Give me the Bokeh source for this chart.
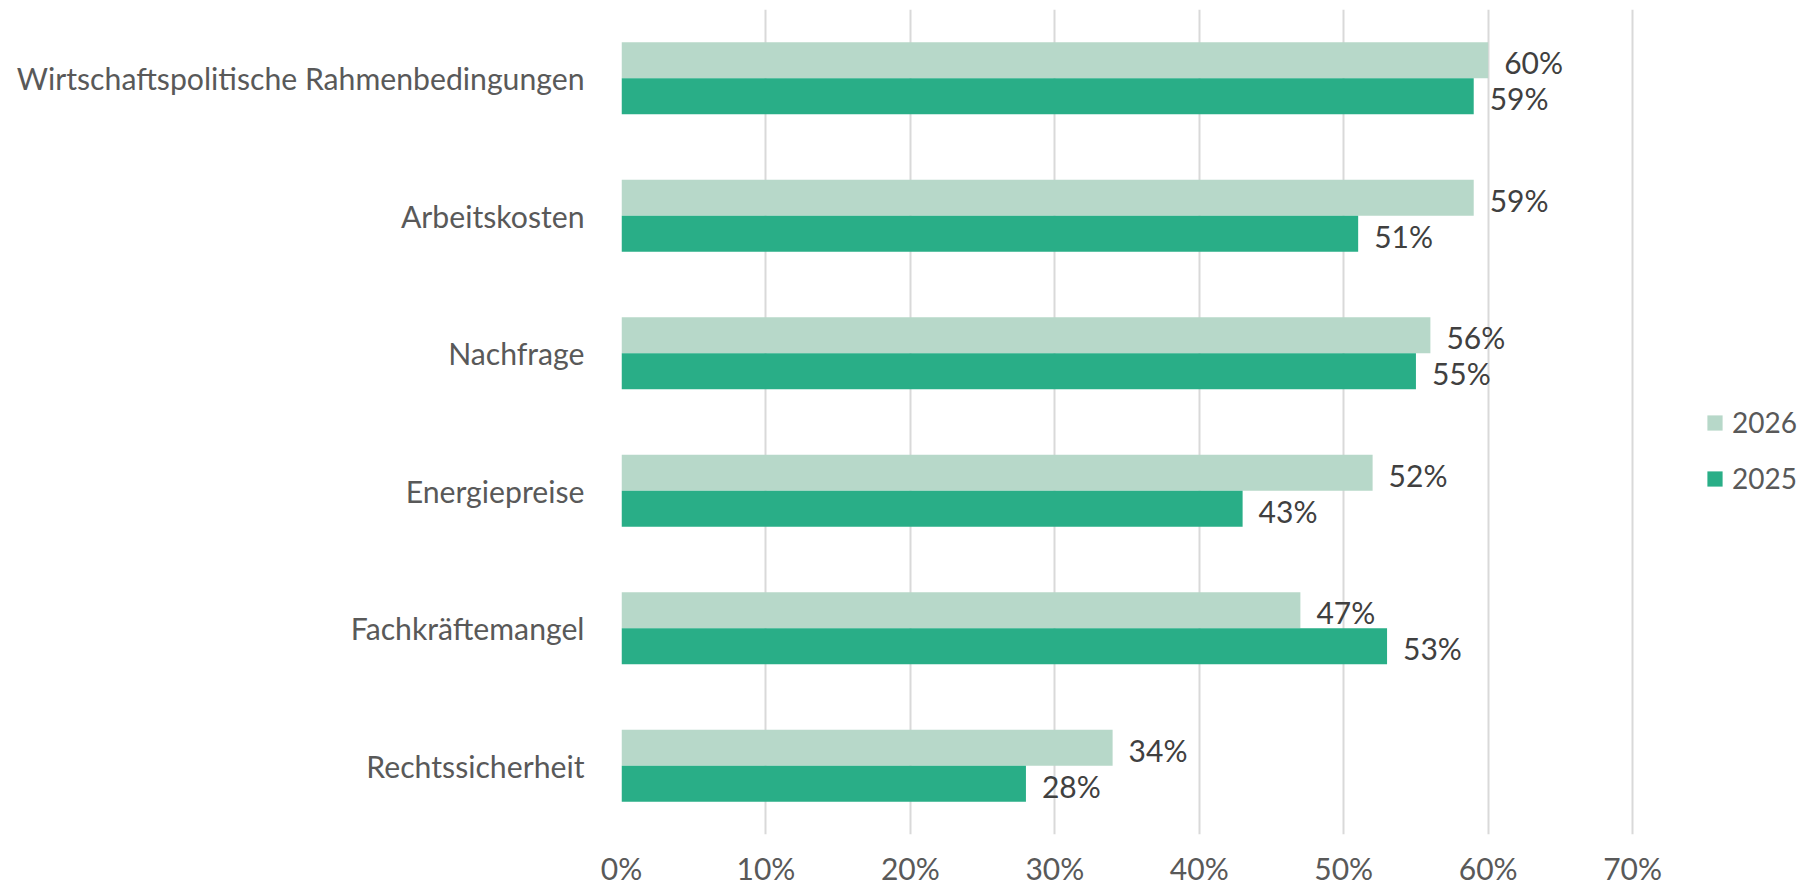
from bokeh.plotting import figure
from bokeh.models import ColumnDataSource, FactorRange, Legend, LegendItem, NumeralTickFormatter, FixedTicker
from bokeh.transform import dodge
from bokeh.core.properties import value
from bokeh.embed import file_html
from bokeh.resources import INLINE

categories = ["Wirtschaftspolitische Rahmenbedingungen", "Arbeitskosten", "Nachfrage",
              "Energiepreise", "Fachkräftemangel", "Rechtssicherheit"]
values_2026 = [0.60, 0.59, 0.56, 0.52, 0.47, 0.34]
values_2025 = [0.59, 0.51, 0.55, 0.43, 0.53, 0.28]
x_ticks = [0.0, 0.1, 0.2, 0.3, 0.4, 0.5, 0.6, 0.7]

LIGHT = "#b7d8c9"
DARK = "#29ae87"
FONT = "Lato"

src = ColumnDataSource(dict(
    cat=categories,
    v26=values_2026,
    v25=values_2025,
    l26=[f"{round(v*100)}%" for v in values_2026],
    l25=[f"{round(v*100)}%" for v in values_2025],
))

p = figure(
    y_range=FactorRange(factors=list(reversed(categories))),
    x_range=(0, 0.702),
    frame_width=1014, height=888,
    min_border_left=621, min_border_top=9, min_border_right=165, min_border_bottom=53,
    output_backend="svg", toolbar_location=None,
)
p.outline_line_color = None
p.background_fill_color = "white"
p.border_fill_color = "white"

bar_h = 0.262
off = bar_h / 2
r26 = p.hbar(y=dodge("cat", off, range=p.y_range), right="v26", left=0, height=bar_h,
             source=src, fill_color=LIGHT, line_color=None)
r25 = p.hbar(y=dodge("cat", -off, range=p.y_range), right="v25", left=0, height=bar_h,
             source=src, fill_color=DARK, line_color=None)

p.text(x="v26", y=dodge("cat", off, range=p.y_range), text="l26", source=src,
       x_offset=16, y_offset=2, text_align="left", text_baseline="middle",
       text_font=value(FONT), text_font_size="30px", text_color="#404040")
p.text(x="v25", y=dodge("cat", -off, range=p.y_range), text="l25", source=src,
       x_offset=16, y_offset=2, text_align="left", text_baseline="middle",
       text_font=value(FONT), text_font_size="30px", text_color="#404040")

# axes
p.xaxis.ticker = FixedTicker(ticks=x_ticks)
p.xaxis.formatter = NumeralTickFormatter(format="0%")
p.xaxis.axis_line_color = None
p.xaxis.major_tick_line_color = None
p.xaxis.minor_tick_line_color = None
p.xaxis.major_label_text_font = FONT
p.xaxis.major_label_text_font_size = "30px"
p.xaxis.major_label_text_color = "#595959"
p.xaxis.major_label_text_line_height = 0.9
p.xaxis.major_label_standoff = 9

p.yaxis.axis_line_color = None
p.yaxis.major_tick_line_color = None
p.yaxis.minor_tick_line_color = None
p.yaxis.major_label_text_font = FONT
p.yaxis.major_label_text_font_size = "30.2px"
p.yaxis.major_label_text_color = "#595959"
p.yaxis.major_label_standoff = 31

p.xgrid.grid_line_color = "#d9d9d9"
p.xgrid.grid_line_width = 2
p.ygrid.grid_line_color = None

legend = Legend(items=[LegendItem(label="2026", renderers=[r26]),
                       LegendItem(label="2025", renderers=[r25])],
                location=(70, 339), orientation="vertical")
legend.border_line_color = None
legend.background_fill_alpha = 0
legend.glyph_width = 19
legend.glyph_height = 19
legend.label_height = 19
legend.label_standoff = 8
legend.label_text_font = FONT
legend.label_text_font_size = "28px"
legend.label_text_color = "#595959"
legend.spacing = 22
legend.padding = 0
legend.margin = 0
p.add_layout(legend, "right")

open("out.html", "w").write(file_html(p, INLINE))
